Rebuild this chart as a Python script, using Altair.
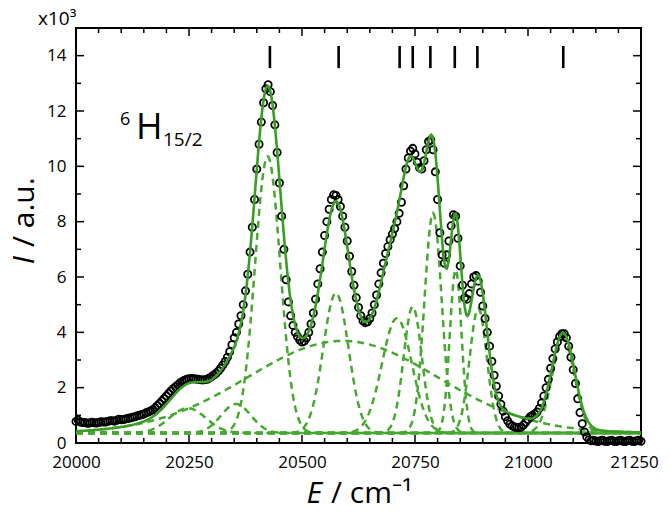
import altair as alt
import numpy as np
import pandas as pd

FONT = "Open Sans"
GREEN_FIT = "#3a9e26"
GREEN_DASH = "#46a830"

# ---- observed spectrum (black circles); E in cm-1, I in units of 10^3 ----
E_obs = [
    20000, 20005, 20010, 20015, 20020, 20025, 20030, 20035, 20040, 20045,
    20050, 20055, 20060, 20065, 20070, 20075, 20080, 20085, 20090, 20095,
    20100, 20105, 20110, 20115, 20120, 20125, 20130, 20135, 20140, 20145,
    20150, 20155, 20160, 20165, 20170, 20175, 20180, 20185, 20190, 20195,
    20200, 20205, 20210, 20215, 20220, 20225, 20230, 20235, 20240, 20245,
    20250, 20255, 20260, 20265, 20270, 20275, 20280, 20285, 20290, 20295,
    20300, 20305, 20310, 20315, 20320, 20325,
    20330, 20335, 20340, 20345, 20350, 20355, 20360, 20365, 20370, 20375,
    20380, 20385, 20390, 20395, 20400, 20405, 20410, 20415, 20420, 20425,
    20430, 20435, 20440, 20445, 20450, 20455, 20460, 20465, 20470, 20475,
    20480, 20485, 20490, 20495, 20500, 20505, 20510, 20515, 20520, 20525,
    20530, 20535, 20540, 20545, 20550, 20555, 20560, 20565, 20570, 20575,
    20580, 20585, 20590, 20595, 20600, 20605, 20610, 20615, 20620, 20625,
    20630, 20635, 20640, 20645, 20650, 20655, 20660, 20665, 20670, 20675,
    20680, 20685, 20690, 20695, 20700, 20705, 20710, 20715, 20720, 20725,
    20730, 20735, 20740, 20745, 20750, 20755, 20760, 20765, 20770, 20775,
    20780, 20785, 20790, 20795, 20800, 20805, 20810, 20815, 20820, 20825,
    20830, 20835, 20840, 20845, 20850, 20855, 20860, 20865, 20870, 20875,
    20880, 20885, 20890, 20895, 20900, 20905, 20910, 20915, 20920, 20925,
    20930, 20935, 20940, 20945, 20950, 20955, 20960, 20965, 20970, 20975,
    20980, 20985, 20990, 20995, 21000, 21005, 21010,
    21015, 21020, 21025, 21030, 21035, 21040, 21045, 21050, 21055, 21060,
    21065, 21070, 21075, 21080, 21085, 21090, 21095, 21100, 21105, 21110,
    21115, 21120, 21125, 21130, 21135, 21140, 21145, 21150, 21155, 21160,
    21165, 21170, 21175, 21180, 21185, 21190, 21195, 21200, 21205, 21210,
    21215, 21220, 21225, 21230, 21235, 21240, 21245, 21250,
]
I_obs = [
    0.78, 0.82, 0.76, 0.74, 0.74, 0.71, 0.72, 0.75, 0.73, 0.72,
    0.74, 0.77, 0.76, 0.76, 0.78, 0.80, 0.80, 0.79, 0.82, 0.86,
    0.84, 0.85, 0.87, 0.89, 0.90, 0.93, 0.95, 0.98, 1.00, 1.02,
    1.05, 1.09, 1.12, 1.16, 1.20, 1.27, 1.35, 1.43, 1.52, 1.61,
    1.70, 1.79, 1.88, 1.96, 2.03, 2.10, 2.17, 2.22, 2.27, 2.30,
    2.32, 2.33, 2.32, 2.31, 2.30, 2.29, 2.28, 2.29, 2.30, 2.35,
    2.40, 2.46, 2.52, 2.60, 2.70, 2.82,
    2.95, 3.10, 3.30, 3.55, 3.80, 4.00, 4.30, 4.60, 5.00, 5.50,
    6.10, 6.90, 7.80, 8.80, 9.90, 10.8, 11.6, 12.3, 12.8, 12.95,
    12.7, 12.2, 11.5, 10.5, 9.40, 8.20, 7.00, 5.90, 5.10, 4.60,
    4.25, 4.00, 3.85, 3.72, 3.65, 3.68, 3.80, 4.00, 4.30, 4.70,
    5.20, 5.75, 6.30, 6.90, 7.50, 8.00, 8.45, 8.80, 8.97, 8.95,
    8.80, 8.55, 8.20, 7.80, 7.30, 6.75, 6.20, 5.70, 5.25, 4.90,
    4.60, 4.42, 4.35, 4.38, 4.50, 4.70, 5.00, 5.35, 5.75, 6.15,
    6.50, 6.85, 7.10, 7.35, 7.55, 7.75, 8.00, 8.30, 8.70, 9.30,
    9.90, 10.3, 10.55, 10.65, 10.45, 10.15, 9.95, 9.90, 10.2, 10.6,
    10.9, 10.95, 10.6, 9.80, 8.80, 7.60, 6.80, 6.50, 6.80, 7.30,
    7.85, 8.25, 8.20, 7.40, 6.40, 5.70, 5.25, 5.20, 5.40, 5.75,
    6.00, 6.05, 5.85, 5.45, 4.95, 4.50, 4.00, 3.50, 2.95, 2.45,
    2.05, 1.70, 1.40, 1.15, 0.95, 0.80, 0.68, 0.62, 0.58, 0.56,
    0.55, 0.58, 0.65, 0.75, 0.85, 0.95, 1.00,
    1.05, 1.12, 1.25, 1.45, 1.70, 2.00, 2.30, 2.70, 3.05, 3.40,
    3.65, 3.85, 3.95, 3.95, 3.80, 3.50, 3.10, 2.65, 2.15, 1.60,
    1.10, 0.70, 0.40, 0.22, 0.12, 0.08, 0.10, 0.07, 0.05, 0.08,
    0.10, 0.06, 0.05, 0.08, 0.10, 0.06, 0.05, 0.08, 0.10, 0.06,
    0.05, 0.08, 0.10, 0.06, 0.05, 0.08, 0.10, 0.06,
]
assert len(E_obs) == len(I_obs)

# ---- fitted Gaussian components ----
comp_center = [20247, 20354, 20424, 20590, 20575, 20710, 20745, 20790, 20840, 20890, 21078]
comp_height = [0.90, 1.05, 10.0, 3.33, 5.06, 4.15, 4.57, 7.95, 5.90, 4.50, 3.40]
comp_sigma = [40, 33, 28, 210, 28, 33, 20, 19, 13, 19, 25]
baseline = 0.36

# ---- transition markers at top ----
marker_E = [20429, 20581, 20716, 20745, 20784, 20838, 20888, 21078]

# ---- axis ticks ----
x_major = [20000, 20250, 20500, 20750, 21000, 21250]
x_minor = [v for v in range(20050, 21250, 50) if v not in x_major]
y_major = [0, 2, 4, 6, 8, 10, 12, 14]
y_minor = [1, 3, 5, 7, 9, 11, 13]

W, H = 565, 415

grid = np.arange(20000, 21250.01, 2.0)
fit = np.full_like(grid, baseline)
rows = []
for k, (c, h, s) in enumerate(zip(comp_center, comp_height, comp_sigma)):
    g = h * np.exp(-0.5 * ((grid - c) / s) ** 2)
    fit = fit + g
    rows.append(pd.DataFrame({"E": grid, "I": baseline + g, "comp": k}))
comp_df = pd.concat(rows, ignore_index=True)
fit_df = pd.DataFrame({"E": grid, "I": fit})
obs_df = pd.DataFrame({"E": E_obs, "I": I_obs})
mark_df = pd.DataFrame({"E": marker_E})

xs = alt.Scale(domain=[20000, 21250], nice=False, zero=False)
ys = alt.Scale(domain=[0, 15], nice=False, zero=False)

xax = alt.Axis(values=x_major, format="d", labelFontSize=17, labelFont=FONT,
               labelColor="black", ticks=False, domain=False, grid=False,
               labelPadding=11, labelFlush=False, labelOverlap=False, title=None,
               labelOffset=alt.expr("datum.value == 21250 ? -7 : 0"))
yax = alt.Axis(values=y_major, format="d", labelFontSize=17, labelFont=FONT,
               labelColor="black", ticks=False, domain=False, grid=False,
               labelPadding=10, labelOverlap=False, title=None)


def X(field):
    return alt.X(field, scale=xs, axis=xax)


def Y(field):
    return alt.Y(field, scale=ys, axis=yax)


comps = alt.Chart(comp_df).mark_line(
    color=GREEN_DASH, strokeWidth=2.5, strokeDash=[7, 5]
).encode(x=X("E:Q"), y=Y("I:Q"), detail="comp:N")

obs = alt.Chart(obs_df).mark_point(
    shape="circle", filled=False, size=52, strokeWidth=1.8, color="black", opacity=1
).encode(x=X("E:Q"), y=Y("I:Q"))

fitline = alt.Chart(fit_df).mark_line(color=GREEN_FIT, strokeWidth=2.6).encode(
    x=X("E:Q"), y=Y("I:Q"))

markers = alt.Chart(mark_df).mark_rule(color="black", strokeWidth=2.6).encode(
    x=X("E:Q"), y=alt.datum(13.55), y2=alt.datum(14.35))


def xticks(vals, length, top):
    d = pd.DataFrame({"E": vals})
    y0, y1 = (0, length) if top else (H, H - length)
    return alt.Chart(d).mark_rule(color="black", strokeWidth=1.5).encode(
        x=X("E:Q"), y=alt.value(y0), y2=alt.value(y1))


def yticks(vals, length, right):
    d = pd.DataFrame({"I": vals})
    x0, x1 = (W, W - length) if right else (0, length)
    return alt.Chart(d).mark_rule(color="black", strokeWidth=1.5).encode(
        y=Y("I:Q"), x=alt.value(x0), x2=alt.value(x1))


def txt(s, x, y, size, align="left", angle=0, style="normal"):
    return alt.Chart(pd.DataFrame({"t": [s]})).mark_text(
        align=align, baseline="alphabetic", fontSize=size, font=FONT,
        fontStyle=style, angle=angle, color="black"
    ).encode(x=alt.value(x), y=alt.value(y), text="t:N")


ticks = [
    xticks(x_major, 8, False), xticks(x_minor, 5, False),
    xticks(x_major, 8, True), xticks(x_minor, 5, True),
    yticks(y_major, 8, False), yticks(y_minor, 5, False),
    yticks(y_major, 8, True), yticks(y_minor, 5, True),
]

texts = [
    txt("x10\u00b3", -38, -3, 19),
    txt("6", 44, 97, 18),
    txt("H", 60, 111, 36),
    txt("15/2", 87, 118, 19),
    txt("E", 246, 475, 30, align="right", style="italic"),
    txt("/ cm\u207b\u00b9", 255, 475, 30, align="left"),
    txt("I", -42, 228, 30, align="right", angle=270, style="italic"),
    txt("/ a.u.", -42, 219, 30, align="left", angle=270),
]

chart = alt.layer(comps, obs, fitline, markers, *ticks, *texts).properties(
    width=W, height=H,
    autosize=alt.AutoSizeParams(type="none"),
    padding={"left": 68, "top": 20, "right": 20, "bottom": 75},
).configure_view(stroke="black", strokeWidth=2)

chart.save("out.html", embed_options={"renderer": "svg", "actions": False})
